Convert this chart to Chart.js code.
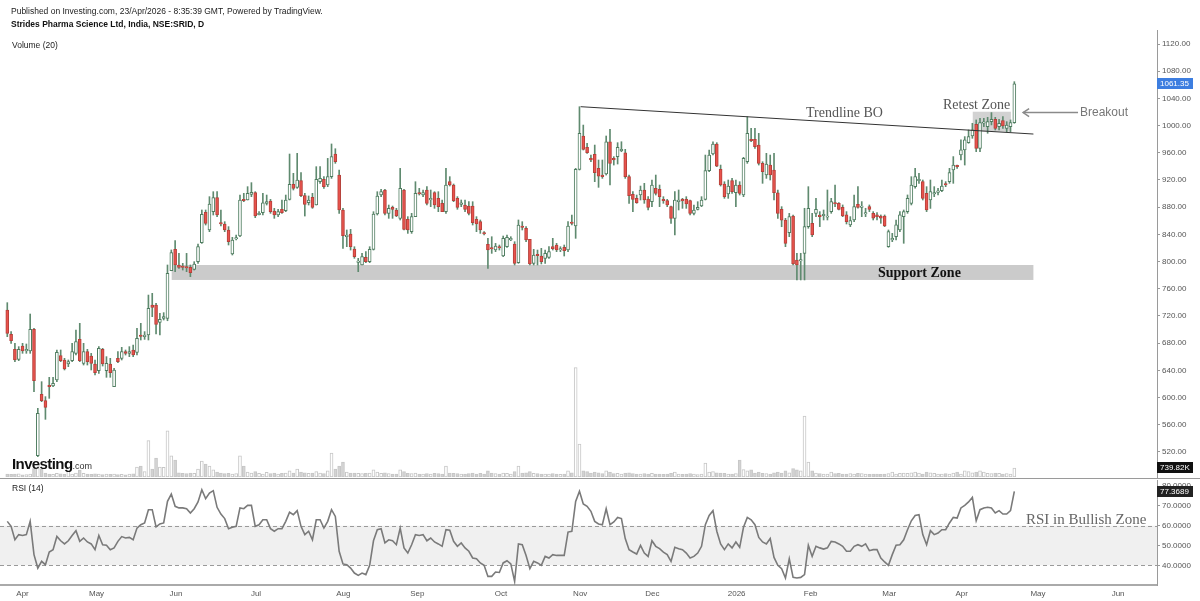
<!DOCTYPE html>
<html><head><meta charset="utf-8">
<script src="https://cdn.jsdelivr.net/npm/chart.js@4.4.1/dist/chart.umd.min.js"></script>
<style>
html,body{margin:0;padding:0;background:#fff;width:1200px;height:601px;overflow:hidden;font-family:"Liberation Sans",Arial,sans-serif;}
#wrap{position:relative;width:1200px;height:601px;}
canvas{position:absolute;left:0;}
.t{position:absolute;white-space:nowrap;line-height:1;}
.serif{font-family:"Liberation Serif","Times New Roman",serif;}
</style></head><body>
<div id="wrap">
<canvas id="main" width="1200" height="480" style="top:0"></canvas>
<canvas id="rsi" width="1200" height="123" style="top:478px"></canvas>
<div style="position:absolute;left:0;top:478px;width:1200px;height:1px;background:#9a9a9a"></div>
<div class="t" style="left:11px;top:7px;font-size:8.5px;color:#222">Published on Investing.com, 23/Apr/2026 - 8:35:39 GMT, Powered by TradingView.</div>
<div class="t" style="left:11px;top:20px;font-size:8.5px;font-weight:bold;color:#111">Strides Pharma Science Ltd, India, NSE:SRID, D</div>
<div class="t" style="left:12px;top:41px;font-size:8.5px;color:#222">Volume (20)</div>
<div class="t" style="left:12px;top:484px;font-size:8.5px;color:#222">RSI (14)</div>
<div class="t" style="left:12px;top:456px;font-size:15px;font-weight:bold;color:#111;letter-spacing:-0.6px">Investing<span style="font-size:9px;font-weight:normal;color:#333;letter-spacing:0">.com</span></div>
<div class="t serif" style="left:806px;top:106px;font-size:14px;color:#555">Trendline BO</div>
<div class="t serif" style="left:943px;top:98px;font-size:14px;color:#555">Retest Zone</div>
<div class="t serif" style="left:878px;top:266px;font-size:14px;font-weight:bold;color:#111">Support Zone</div>
<div class="t" style="left:1080px;top:106px;font-size:12px;color:#777">Breakout</div>
<div class="t serif" style="left:1026px;top:512px;font-size:15px;color:#666">RSI in Bullish Zone</div>
</div>
<script>
// ---------- data ----------
const openP = [728.8,693,671,656.2,675.9,668.5,668.5,700.4,514.6,604.8,
595.5,618,617,625.9,661.6,655.3,649.4,654.3,665,685.6,
650.4,667.5,661.1,649.4,639.6,671,639.6,649.4,616,657.7,
657.7,667.5,665,670,666.5,692,689.6,692,736.1,736.1,
710.7,716.5,716.6,786.6,818,795,793.5,792.5,791.6,788.6,
799.9,827.8,872.4,846.5,873.4,894,857.2,855.3,846.5,811.2,
833.2,837.6,891.5,890.6,898.9,901.4,869,871.9,885.7,889.1,
874.4,868.5,876.9,874.9,891.6,913.6,909.2,919,896.9,886.6,
894.5,883.2,917.5,921,912.6,924.9,958.2,927.3,875.9,836.6,
840.6,818.5,798.9,795,806.3,799.9,818,870,897.9,905.3,
871,879.8,875.9,863.6,905.3,862.1,844,866.1,901.4,897.9,
905.3,890.6,901.4,893,885.7,873.4,917.5,912.6,893,884.2,
883.2,881.7,881.7,862.1,858.7,842.5,825.4,820.5,817,821.9,
808.2,821.9,831.8,825.9,798.4,852.3,848.9,832.7,797.4,810.7,
808.2,804.8,806.3,821.9,824.4,817,821,817,858.2,852.3,
935.6,984.7,968,951.8,957.7,937.1,927.3,928.8,976.3,951.8,
954.3,963.1,960.1,924.9,898.9,893,897.9,905.3,892,888.1,
907.7,906.2,891.5,889.6,880.8,863.6,888.1,891.5,891.5,889.6,
870.9,876.8,881.7,891.5,933.7,958.2,972.9,935.6,914.1,899.4,
919,901.3,912.6,897.9,946.9,979.8,979.8,971.4,944.5,927.3,
942,934.7,901.3,876.8,861.1,842.5,867,802.3,800.9,812.2,
851.4,856.3,871,868.5,867.6,865.2,873.5,886.7,885.7,879.8,
868.6,853.9,861.2,884.2,879.8,870,880.8,871,868.6,867.1,
867.1,822,831.8,836.7,846.5,866.1,873.5,885.7,910.2,919,
917.6,900.4,890.6,899.5,901.9,904.4,914.6,917.6,934.7,941.5,
956.8,964.2,974.9,984.8,1001.9,966.6,1003.4,998.5,1005.8,1009.3,
998.5,1007.3,996,998.5,1004.4];
const highP = [739.6,697,679.8,674.9,679.8,678.8,722.9,702,584.2,623.4,
601.4,629.8,629.8,670,670,657.7,655.3,679.8,699.4,709.2,
679.8,671,665,655.3,674.9,672.4,660.2,657.7,643,667.5,
673.9,670,674.9,677.3,701.8,709.2,697,750.8,753.3,738.6,
723.9,724.9,795,817.1,830.8,812.1,797.4,812.1,795,799.9,
825.9,875.9,875.9,895.5,902.8,902.8,875.9,858.7,851.4,835.7,
839.1,897.9,900.4,910.2,916.1,902.8,873.4,900.4,897.9,891.5,
878.3,876.9,890.6,897.9,958.2,929.8,959.2,930.8,900.4,896.5,
900.4,939.6,939.6,924.9,951.8,973,966,934.7,878.3,846.5,
847.4,821.9,804.8,812.1,814.6,821.9,873.4,902.8,906.3,906.3,
883.2,881.7,878.3,937.1,906.3,866.1,871,917.5,907.7,905.3,
910.2,905.3,902.8,902.8,890.6,937.1,924.9,914.1,895.5,890.6,
890.6,888.1,888.1,866.1,861.2,844,834.2,836.6,826.8,824.4,
837.6,839.1,836.6,829.3,861.2,858.7,851.4,832.7,818,817,
819.5,817,821.9,834.2,826.8,821.9,824.4,858.7,868.5,937.1,
1027.8,1000.8,973.9,956.7,971.4,949.4,949.4,984.7,994.5,954.3,
974.9,976.3,965.1,927.3,902.8,897.9,911.1,915.1,895.5,920,
927.3,912.6,895.5,891.5,881.7,902.8,905.3,893,895.5,890.6,
883.2,888.1,895.5,956.7,964.1,976.3,974.9,942,917.5,920,
922.4,920,917.5,953.3,1013.1,995.9,995.9,988.6,946.9,959.2,
956.7,959.2,905.3,880.8,863.6,870.9,868.5,812.1,812.2,878.4,
910.2,871,893,873.5,875.9,905.3,893,912.7,886.7,883.3,
873.5,866.1,898,910.2,888.2,878.4,883.3,873.5,872,868.6,
868.6,846.5,841.6,861.2,873.5,875.9,898,924.9,937.2,929.9,
920,910.2,920,910.2,907.8,920,917.6,937.2,954.4,942,
978.9,983.8,993.6,1003.4,1008.3,1010.7,1010.7,1012.2,1019.1,1012.2,
1009.3,1013.2,1005.8,1008.3,1064.6];
const lowP = [689.6,679.8,652.8,654.3,665.1,665.1,665.1,608.7,513.1,594,
568,598.9,616,623.4,652.8,640.6,645.5,652.8,662.6,652.8,
647.9,647.9,640.6,633.2,635.7,646.4,629.8,629.8,616,651.3,
655.3,662.6,660.2,660.2,662.6,684.7,685.6,684.7,719,693.5,
692,714.1,713,786.6,785.2,790.1,787.6,785.2,777.8,787.6,
797.4,826.8,853.8,844,868.5,866.1,852.3,844,824.4,809.7,
831.8,836.6,888.1,890.6,895.5,864.6,868.5,868.5,883.2,871,
863.6,866.1,871,873.4,890.6,905.3,907.7,895.5,867,883.2,
878.3,883.2,915.1,907.7,910.2,922.4,944.5,871,819.5,821.9,
817,804.8,785.2,795,798.4,798.4,817,868.5,895.5,868.5,
863.6,863.6,866.1,861.2,846.5,841.5,841.5,866.1,897.9,895.5,
883.2,880.8,878.3,873.4,873.4,871,911.2,888.1,876.9,880.8,
873.4,868.5,853.8,844,841.5,839.1,790.1,812.1,814.6,817,
807.3,821,830.8,795,797.4,846.5,829.3,795,795,795,
796.5,797.4,804.8,817,814.6,814.6,808.2,814.6,853.8,834.2,
934.7,964.1,959.2,946.9,917.5,909.2,922.4,927.3,912.6,942,
943.5,961.6,922.4,885.7,873.4,885.7,890.6,885.7,875.9,880.8,
897.9,880.8,885.7,880.8,856.2,839.1,875.9,878.3,878.3,868.5,
868.5,875.9,880.8,890.6,932.2,956.7,939.6,911.1,893,893,
900.4,880.8,897.9,895.5,944.5,976.3,966.5,942,915.1,922.4,
920,890.6,863.6,851.3,821.9,836.6,795,772.9,773,773,
849,836.7,866.1,851.4,861.2,861.2,871,880.8,875.9,866.1,
855.3,851.4,858.8,878.4,866.1,866.1,873.5,861.2,861.2,856.3,
851.4,821,829.3,831.8,844.1,826.9,871,883.3,907.8,915.1,
890.6,873.5,878.2,895.5,898,902.9,910.2,915.1,915.1,937.2,
949.5,942,974,981.3,961.7,961.7,998.5,988.7,1001,993.6,
993.6,996,991.1,991.1,1003.4];
const closeP = [694.5,683.7,655.3,671,668.5,671,700.4,624.9,576.9,595.5,
585.7,616,621,666.5,654.3,642,652.8,667.5,682.2,654.3,
667.5,652.8,650.4,636.6,672.4,649.4,650.4,636.6,640.6,652.8,
667.5,665,667.5,662.6,687.1,690,692,731.2,732.7,707.7,
715.1,719,782.7,813.1,795,791.6,791.6,790.6,783.7,796.5,
821.9,869.5,856.3,884.7,894,868.5,855.3,846.5,829.3,831.8,
835.2,890.6,889.6,900.4,901.9,867,871,886.6,888.1,873.4,
868.5,873.4,872,890.6,913.6,907.7,920,896.9,884.2,890.6,
879.8,921,922.4,910.2,924.9,954.3,947,875.9,838.1,839.1,
821.9,807.3,800.9,807.3,799.9,818,870,896.5,902.8,871,
878.3,876.9,867,907.7,847.4,846.5,866.1,900.4,899.4,901.4,
885.7,893,883.2,880.8,873.4,912.6,912.6,889.6,879.8,886.6,
876.9,871,857.2,855.3,846.5,840.6,817,818.5,822.9,820,
834.2,835.7,834.2,797.4,853.8,850.4,831.8,796.5,809.7,808.7,
799.9,812.1,814.6,819,817,819,816.1,852.3,856.3,935.7,
988.6,965.1,960.1,949.4,930.7,925.8,924.9,976.3,944.5,949.4,
968,965.1,924.9,896.9,891.5,886.6,905.3,890.6,879.8,912.6,
900.4,895.5,889.6,883.2,863.6,890.6,890.6,889.1,884.7,870.9,
875.9,879.8,890.6,933.7,956.7,972.9,940.5,912.6,895.5,911.1,
902.8,912.6,900.4,951.8,988.6,977.8,969,944.5,932.2,943.5,
927.3,901.3,870.9,861.1,826.8,866.1,796.4,795,802.9,851.4,
878.4,839.2,876.9,866.1,869.5,867.1,888.2,884.7,876.9,867.1,
858.8,860.2,880.8,879.8,881.8,872,876.9,863.7,866.1,863.7,
852.4,844,834.3,853.9,868.6,873.5,893,912.7,924.9,921,
893,875.9,902.9,901.4,903.9,911.2,912.7,930.8,942,939.6,
964.2,978.9,983.8,993.6,966.6,1004.4,1005.4,1005.8,1009.3,996,
1003.4,999.5,1000.9,1004.4,1061.35];
const volumeK = [250,210,230,260,180,200,240,700,740,660,
330,250,210,300,260,220,480,250,330,560,
300,250,220,270,240,200,230,210,250,190,
210,180,240,270,820,900,450,3000,650,1550,
820,800,3800,1730,1400,350,300,280,330,300,
650,1300,1070,900,580,400,330,280,300,250,
280,1730,900,400,330,450,300,250,380,280,
330,250,300,330,500,330,650,400,350,300,
330,450,330,280,500,1970,660,900,1230,410,
330,330,300,280,300,330,580,410,300,350,
280,250,230,580,450,300,280,330,250,230,
280,250,300,280,250,900,330,300,280,230,
250,280,330,250,300,250,500,330,280,250,
330,300,250,450,900,330,350,450,300,280,
250,230,250,280,230,210,250,500,350,9000,
2700,500,450,330,410,350,280,500,410,280,
300,250,330,350,280,250,230,280,250,300,
250,230,210,230,300,410,250,210,230,280,
230,200,250,1150,410,450,350,330,300,250,
230,280,1400,600,500,580,330,410,300,280,
250,350,410,330,500,350,700,580,500,5000,
1230,500,330,280,250,230,410,280,300,230,
250,280,230,300,280,230,210,230,250,210,
230,280,410,250,300,330,300,350,410,330,
250,410,350,300,250,230,280,250,330,410,
250,500,450,350,410,500,410,300,280,330,
300,250,280,250,739.82];
const rsi14 = [62.2,59.7,52.9,55.5,55.1,55.5,62.2,45.4,38.6,42,
40.3,46.7,47.9,54.6,52.4,50.8,52.4,55.1,57.5,52.1,
53.8,51.8,50.8,47.9,55.1,50.4,50.1,47.9,48.8,52.1,
54.5,53.8,54.1,52.9,58.8,60.5,61.4,68.1,68.1,59.4,
60.9,61.4,72.3,76,69.8,69,69,68.6,66.4,68.6,
72,78.2,73.7,76.5,77.7,69.3,65.9,63.6,58.5,59.2,
59.7,69,68.6,70.3,70.3,59.7,60.5,63,63,58.5,
57.2,58.5,58.5,62.2,66.8,65.6,67.6,59.7,55.5,57.2,
52.9,63,63,58.8,62.2,68.1,64.7,47.1,40.7,40.3,
38.6,36.1,34.9,36.1,35.3,40,52.4,58,58.5,51.3,
52.9,52.4,50.4,58.8,48.8,46.2,50.4,55.5,55.1,55.5,
52.4,53.8,51.8,50.8,49.6,58,57.7,52.1,49.6,51.3,
48.8,47.1,43.7,43.3,41.2,40,34.4,34.4,36.6,36.4,
41.2,42.3,40.7,31.9,50.8,50.4,45,38.3,42,41.2,
40,44.5,43.7,45.4,45,45,45,56.8,57.2,72.3,
77.4,71,69.8,67.3,62.2,60.9,60.5,68.6,60.5,61.9,
64.2,63.6,53.5,47.9,46.7,45.7,50.1,46.2,44.5,52.4,
49.6,48.4,46.7,45.4,42,49.1,48.4,47.9,46.2,43.7,
44.5,46.2,49.6,60.5,65.2,67.6,57.2,50.8,47.9,50.8,
48.8,51.8,49.1,59.2,64.2,63,60.5,54.1,51.8,50.8,
53.5,44,40,38.3,33.6,43.3,33.9,33.6,33.9,35.3,
50.1,44.5,49.6,48.8,48.2,48.8,52.1,51.8,50.8,49.6,
47.1,47.1,49.6,50.4,49.6,50.8,47.4,47.9,47.9,43.7,
41.7,40,45.4,50.1,50.4,52.9,58,62.5,65.2,65.6,
55.5,50.4,57.5,55.5,56.3,58,58,61.4,64.2,63.9,
69,70.3,72,74.3,62.5,68.1,69,69.3,69,66.4,
67.6,65.9,65.9,67.6,77.3689];
const monthTickIdx = [4.0,23.4,44.2,65.2,88.1,107.5,129.4,150.2,169.1,191.2,210.6,231.2,250.2,270.2,291.2];
const monthTickLabels = ["Apr","May","Jun","Jul","Aug","Sep","Oct","Nov","Dec","2026","Feb","Mar","Apr","May","Jun"];
const priceTicks = [520,560,600,640,680,720,760,800,840,880,920,960,1000,1040,1080,1120];
const rsiTicks = [40,50,60,70,80];
const rsiBand = [40,60];
const trendline = [{x:150.3,y:1027.8},{x:269.0,y:987.6}];
const supportZone = {x0:43.1,x1:269.0,y0:773,y1:795};
const retestZone = {x0:253.1,x1:263.1,y0:991,y1:1020.4};
const breakoutArrow = [{x:280.7,y:1019.2},{x:266.3,y:1019.2}];
const lastPrice = 1061.35, lastVolumeK = 739.82, lastRsi = 77.3689;

// ---------- styles ----------
const UP_BORDER = '#4f7d60', WICK = '#5f8a6f', DOWN_FILL = '#e9524c', DOWN_BORDER = '#b5403a';
const X_MIN = -1.91, X_MAX = 301.4;
const FONT = '"Liberation Sans", Arial, sans-serif';

const idx = closeP.map((_, i) => i);
const isUp = idx.map(i => closeP[i] >= openP[i]);

function valueBox(ctx, x, yc, w, h, bg, fg, text){
  ctx.save();
  const top = Math.round(yc - h/2);
  ctx.fillStyle = bg; ctx.fillRect(x, top, w, h);
  ctx.fillStyle = fg; ctx.font = '8px ' + FONT; ctx.textBaseline = 'middle'; ctx.textAlign = 'left';
  ctx.fillText(text, x + 3, top + h/2 + 0.5);
  ctx.restore();
}
const noPad = s => { s.paddingTop = 0; s.paddingBottom = 0; s.paddingLeft = 0; s.paddingRight = 0; };

const mainPlugin = {
  id: 'mainDeco',
  beforeDatasetsDraw(chart){
    const {ctx, scales:{x, y}} = chart;
    ctx.save();
    const rect = (z, col) => {
      const x0 = x.getPixelForValue(z.x0), x1 = x.getPixelForValue(z.x1);
      const y0 = y.getPixelForValue(z.y1), y1 = y.getPixelForValue(z.y0);
      ctx.fillStyle = col; ctx.fillRect(x0, y0, x1 - x0, y1 - y0);
    };
    rect(supportZone, '#cbcbcb');
    rect(retestZone, '#d2d2d2');
    ctx.restore();
  },
  afterDatasetsDraw(chart){
    const {ctx, scales:{x, y}} = chart;
    ctx.save();
    const ax0 = x.getPixelForValue(breakoutArrow[0].x), ay0 = y.getPixelForValue(breakoutArrow[0].y);
    const ax1 = x.getPixelForValue(breakoutArrow[1].x), ay1 = y.getPixelForValue(breakoutArrow[1].y);
    ctx.strokeStyle = '#8a8a8a'; ctx.lineWidth = 1.5;
    ctx.beginPath(); ctx.moveTo(ax0, ay0); ctx.lineTo(ax1, ay1); ctx.stroke();
    ctx.beginPath(); ctx.moveTo(ax1 + 6, ay1 - 4); ctx.lineTo(ax1, ay1); ctx.lineTo(ax1 + 6, ay1 + 4); ctx.stroke();
    ctx.restore();
  },
  afterDraw(chart){
    const {ctx, chartArea, scales:{y, yv}} = chart;
    valueBox(ctx, chartArea.right, y.getPixelForValue(lastPrice), 36, 11, '#3d7ee0', '#fff', lastPrice.toFixed(2));
    valueBox(ctx, chartArea.right, yv.getPixelForValue(lastVolumeK), 36, 11, '#111', '#fff', lastVolumeK.toFixed(2) + 'K');
  }
};

new Chart(document.getElementById('main'), {
  type: 'bar',
  data: {
    datasets: [
      { type:'line', data: trendline, borderColor:'#333', borderWidth:1, pointRadius:0, order:1, yAxisID:'y' },
      { label:'body', data: idx.map(i => ({x:i, y:[openP[i], closeP[i]]})),
        backgroundColor: idx.map(i => isUp[i] ? '#ffffff' : DOWN_FILL),
        borderColor: idx.map(i => isUp[i] ? UP_BORDER : DOWN_BORDER),
        borderWidth:1, borderSkipped:false, barThickness:3, minBarLength:1, grouped:false, order:2, yAxisID:'y' },
      { label:'wick', data: idx.map(i => ({x:i, y:[lowP[i], highP[i]]})),
        backgroundColor: WICK, borderWidth:0, barThickness:1, grouped:false, order:3, yAxisID:'y' },
      { label:'volume', data: idx.map(i => ({x:i, y:volumeK[i]})),
        backgroundColor: idx.map(i => isUp[i] ? '#ffffff' : '#d3d3d3'),
        borderColor: '#c6c6c6', borderWidth:1, borderSkipped:false, barThickness:3, grouped:false, order:4, yAxisID:'yv' }
    ]
  },
  options: {
    responsive:false, animation:false, events:[],
    layout:{padding:{top:30, bottom:3, left:0, right:0}},
    plugins:{legend:{display:false}, tooltip:{enabled:false}},
    scales:{
      x:{type:'linear', min:X_MIN, max:X_MAX, offset:false, display:false},
      y:{position:'right', min:483.2, max:1140.6,
         afterBuildTicks: s => { s.ticks = priceTicks.map(v => ({value:v})); },
         afterFit: s => { s.width = 43; noPad(s); },
         grid:{drawOnChartArea:false, drawTicks:true, tickLength:3, color:'#9a9a9a'},
         border:{display:true, color:'#9a9a9a', width:1},
         ticks:{font:{size:8, family:FONT}, color:'#555', padding:2, callback: v => Number(v).toFixed(2)}},
      yv:{display:false, min:0, max:36740}
    }
  },
  plugins:[mainPlugin]
});

const rsiPlugin = {
  id:'rsiDeco',
  beforeDatasetsDraw(chart){
    const {ctx, chartArea, scales:{yr}} = chart;
    const yTop = yr.getPixelForValue(rsiBand[1]), yBot = yr.getPixelForValue(rsiBand[0]);
    ctx.save();
    ctx.fillStyle = '#f0f0f0';
    ctx.fillRect(chartArea.left, yTop, chartArea.right - chartArea.left, yBot - yTop);
    ctx.strokeStyle = '#9a9a9a'; ctx.lineWidth = 1; ctx.setLineDash([4,3]);
    [yTop, yBot].forEach(yy => { ctx.beginPath(); ctx.moveTo(chartArea.left, Math.round(yy)+0.5); ctx.lineTo(chartArea.right, Math.round(yy)+0.5); ctx.stroke(); });
    ctx.restore();
  },
  afterDraw(chart){
    const {ctx, chartArea, scales:{yr}} = chart;
    valueBox(ctx, chartArea.right, yr.getPixelForValue(lastRsi), 36, 11, '#222', '#fff', lastRsi.toFixed(4));
  }
};

new Chart(document.getElementById('rsi'), {
  type:'line',
  data:{ datasets:[{ data: idx.map(i => ({x:i, y:rsi14[i]})), borderColor:'#7a7a7a', borderWidth:1.6, pointRadius:0, tension:0, yAxisID:'yr' }] },
  options:{
    responsive:false, animation:false, events:[],
    layout:{padding:{top:2, bottom:0, left:0, right:0}},
    plugins:{legend:{display:false}, tooltip:{enabled:false}},
    scales:{
      x:{type:'linear', min:X_MIN, max:X_MAX, offset:false,
         afterBuildTicks: s => { s.ticks = monthTickIdx.map(v => ({value:v})); },
         afterFit: s => { s.height = 16; noPad(s); },
         grid:{display:false, drawTicks:false},
         border:{display:true, color:'#aaaaaa', width:2},
         ticks:{font:{size:8, family:FONT}, color:'#555', padding:4, maxRotation:0, autoSkip:false,
                callback: (v, k) => monthTickLabels[k]}},
      yr:{position:'right', min:30.05, max:83.1,
          afterBuildTicks: s => { s.ticks = rsiTicks.map(v => ({value:v})); },
          afterFit: s => { s.width = 43; noPad(s); },
          grid:{drawOnChartArea:false, drawTicks:true, tickLength:3, color:'#9a9a9a'},
          border:{display:true, color:'#9a9a9a', width:1},
          ticks:{font:{size:8, family:FONT}, color:'#555', padding:2, callback: v => Number(v).toFixed(4)}}
    }
  },
  plugins:[rsiPlugin]
});
</script>
</body></html>
